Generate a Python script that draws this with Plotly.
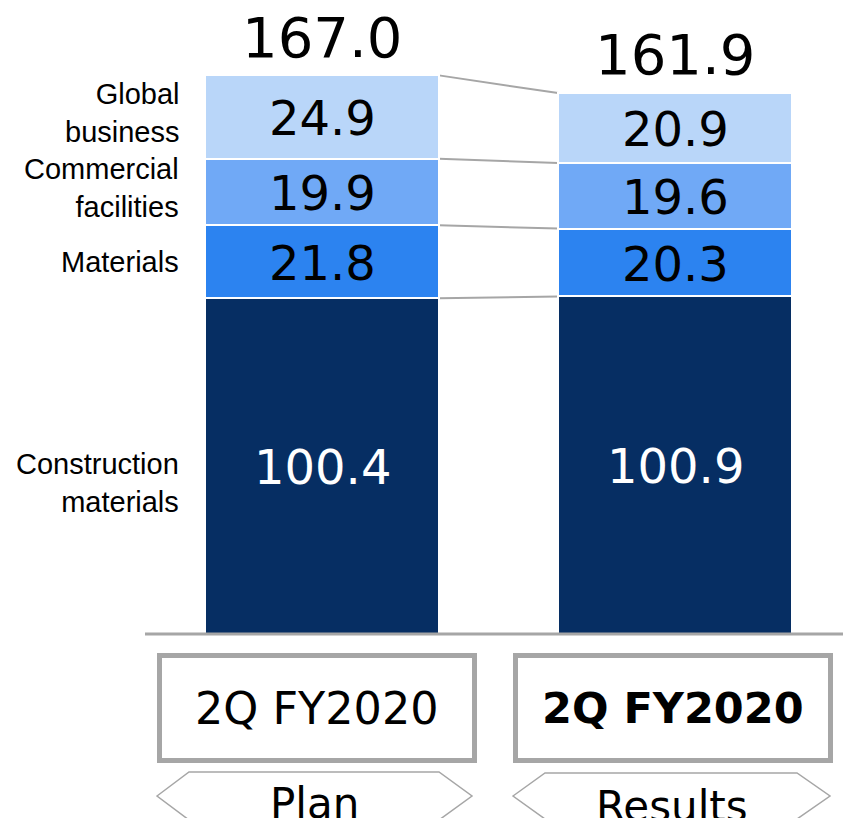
import numpy as np
import plotly.graph_objects as go

# ---- data ----
periods = ["Plan", "Results"]
period_box_labels = ["2Q FY2020", "2Q FY2020"]
segments = ["Construction<br>materials", "Materials", "Commercial<br>facilities", "Global<br>business"]
construction = [100.4, 100.9]
materials = [21.8, 20.3]
commercial = [19.9, 19.6]
global_biz = [24.9, 20.9]
totals = [167.0, 161.9]

series = [construction, materials, commercial, global_biz]
colors = ["#062E63", "#2C83F0", "#70A9F6", "#B9D6F9"]
text_colors = ["white", "black", "black", "black"]

# ---- geometry (pixel helpers for decorations) ----
W, H = 843, 818
X0PX, XSC = 322.0, 353.0
Y0PX, YSC = 634.0, 3.345
def xd(px):
    return (px - X0PX) / XSC
def yd(py):
    return (Y0PX - py) / YSC

BAR_W = 234 / XSC
xs = [0, 1]
VALUE_FONT = "DejaVu Sans, Verdana, sans-serif"
LABEL_FONT = "Liberation Sans, Arial, sans-serif"
GRAY = "#A6A6A6"

fig = go.Figure()
for vals, col in zip(series, colors):
    fig.add_trace(go.Bar(x=xs, y=vals, width=BAR_W, marker=dict(color=col, line=dict(color="white", width=2)),
                         hoverinfo="skip", showlegend=False))

annotations = []
shapes = []
cum = np.zeros(2)
for i, (vals, tc) in enumerate(zip(series, text_colors)):
    v = np.array(vals)
    mids = cum + v / 2
    for j in range(2):
        annotations.append(dict(x=xs[j], y=mids[j], xref="x", yref="y", text=f"{vals[j]:.1f}",
                                showarrow=False, font=dict(family=VALUE_FONT, size=48, color=tc),
                                xanchor="center", yanchor="middle", yshift=-1))
    cum = cum + v
    # connector line
    shapes.append(dict(type="line", xref="x", yref="y", x0=xs[0] + BAR_W / 2, x1=xs[1] - BAR_W / 2,
                       y0=cum[0], y1=cum[1], line=dict(color=GRAY, width=2), layer="below"))

# totals
for j in range(2):
    annotations.append(dict(x=xs[j], y=totals[j], xref="x", yref="y", text=f"{totals[j]:.1f}",
                            showarrow=False, font=dict(family=VALUE_FONT, size=56, color="black"),
                            xanchor="center", yanchor="middle", yshift=38))

# segment labels on the left
label_shift = [-17, 0, 4, 4]
cum = 0
for seg, vals, sh in zip(segments, series, label_shift):
    mid = cum + vals[0] / 2
    cum += vals[0]
    annotations.append(dict(x=xd(181), y=mid, xref="x", yref="y", text=seg, showarrow=False,
                            font=dict(family=LABEL_FONT, size=29, color="black"),
                            xanchor="right", yanchor="middle", align="right", yshift=sh))

# baseline
shapes.append(dict(type="line", xref="x", yref="y", x0=xd(145), x1=xd(843), y0=yd(634), y1=yd(634),
                   line=dict(color=GRAY, width=3)))

# boxes with period labels
box_x = [(159.5, 474.5), (515.5, 830.5)]
for j, (bx0, bx1) in enumerate(box_x):
    shapes.append(dict(type="rect", xref="x", yref="y", x0=xd(bx0), x1=xd(bx1), y0=yd(655.5), y1=yd(760.5),
                       line=dict(color=GRAY, width=5), fillcolor="white"))
    annotations.append(dict(x=xd((bx0 + bx1) / 2), y=yd(708), xref="x", yref="y", text=(
        f"<b>{period_box_labels[j]}</b>" if j == 1 else period_box_labels[j]), showarrow=False,
        font=dict(family=VALUE_FONT, size=43 if j == 1 else 44.5, color="black"),
        xanchor="center", yanchor="middle"))

# chevron hexagons
hexes = [(157, 189, 439, 472, 772), (513, 545, 797, 830, 773)]
for j, (a, b, c, d, top) in enumerate(hexes):
    mid = 796
    bot = mid + (mid - top)
    pts = [(a, mid), (b, top), (c, top), (d, mid), (c, bot), (b, bot)]
    path = "M " + " L ".join(f"{xd(px)},{yd(py)}" for px, py in pts) + " Z"
    shapes.append(dict(type="path", xref="x", yref="y", path=path, line=dict(color=GRAY, width=1.5)))
    annotations.append(dict(x=xd((a + d) / 2), y=yd(803 + 3 * j), xref="x", yref="y", text=periods[j],
                            showarrow=False, font=dict(family=VALUE_FONT, size=42, color="black"),
                            xanchor="center", yanchor="middle"))

fig.update_layout(
    width=W, height=H, margin=dict(l=0, r=0, t=0, b=0),
    barmode="stack", bargap=0,
    plot_bgcolor="white", paper_bgcolor="white",
    xaxis=dict(range=[xd(0), xd(W)], visible=False, fixedrange=True),
    yaxis=dict(range=[yd(H), yd(0)], visible=False, fixedrange=True),
    annotations=annotations, shapes=shapes, showlegend=False,
)
fig.write_html("out.html", config={"displayModeBar": False},
               post_script="document.body.style.margin='0';document.body.style.overflow='hidden';")
